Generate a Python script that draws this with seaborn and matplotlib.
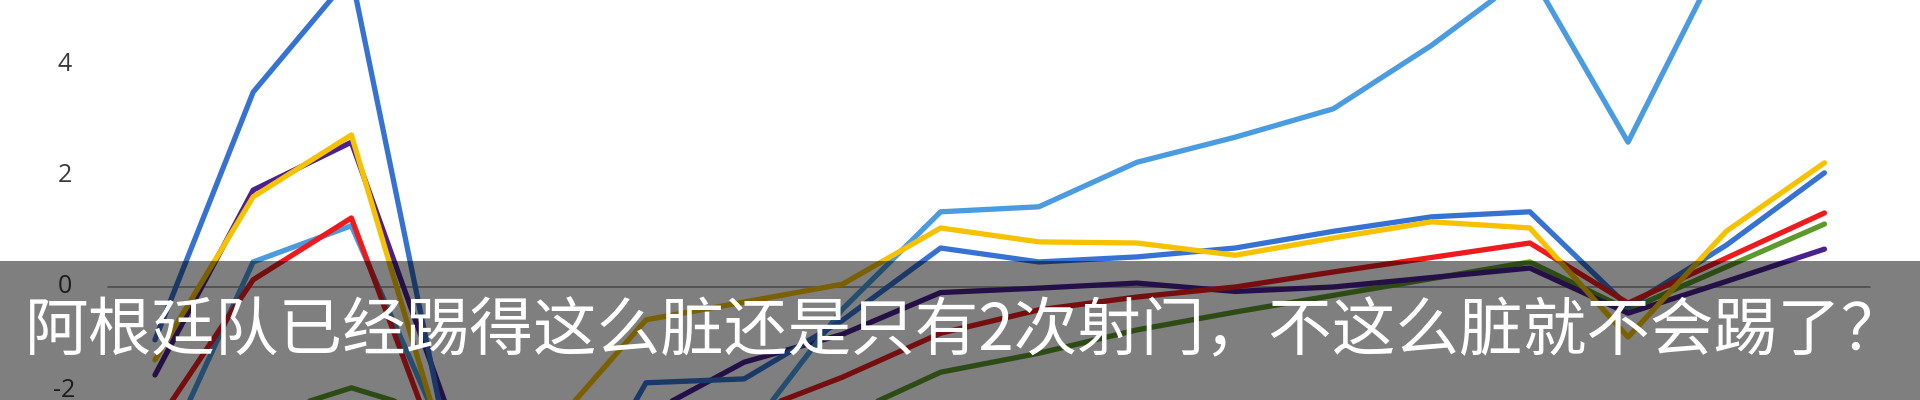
import pandas as pd
import matplotlib.pyplot as plt
import seaborn as sns
from matplotlib.patches import Rectangle

sns.set_theme(style="white")
plt.rcParams['font.family'] = ['Noto Sans CJK SC', 'DejaVu Sans']

# values, one per round (0..17)
rounds = list(range(18))
blue = [-0.95, 3.5, 5.6, -3.0, -4.8, -1.72, -1.65, -0.6, 0.70, 0.45, 0.54, 0.70, 1.0, 1.26, 1.35, -0.35, 0.75, 2.05]
light_blue = [-3.4, 0.45, 1.1, -2.9, -4.0, -3.5, -2.7, -0.4, 1.35, 1.44, 2.24, 2.69, 3.2, 4.34, 5.65, 2.6, 6.1, 6.5]
yellow = [-1.31, 1.62, 2.73, -3.2, -2.6, -0.59, -0.27, 0.05, 1.06, 0.81, 0.79, 0.57, 0.88, 1.17, 1.06, -0.9, 1.0, 2.23]
purple = [-1.58, 1.74, 2.6, -2.3, -3.5, -2.3, -1.35, -0.85, -0.1, -0.02, 0.07, -0.08, 0.0, 0.17, 0.34, -0.47, 0.1, 0.68]
red = [-2.5, 0.13, 1.24, -3.5, -4.0, -3.0, -2.3, -1.62, -0.83, -0.41, -0.18, 0.0, 0.27, 0.53, 0.79, -0.29, 0.52, 1.33]
green = [-2.9, -2.37, -1.81, -2.35, -2.6, -2.7, -2.6, -2.34, -1.53, -1.19, -0.77, -0.45, -0.15, 0.15, 0.45, -0.41, 0.36, 1.13]

y_ticks = [-2, 0, 2, 4]
caption = "阿根廷队已经踢得这么脏还是只有2次射门，不这么脏就不会踢了？"

series = {
    "green": green,
    "purple": purple,
    "light_blue": light_blue,
    "blue": blue,
    "red": red,
    "yellow": yellow,
}
colors = {
    "green": "#5c9a2c",
    "purple": "#4a2290",
    "light_blue": "#4a9be0",
    "blue": "#3572d2",
    "red": "#ee1b1e",
    "yellow": "#f6c200",
}

df = pd.concat(
    [pd.DataFrame({"round": rounds, "value": v, "series": k}) for k, v in series.items()],
    ignore_index=True,
)

fig = plt.figure(figsize=(19.2, 4.0), dpi=100)
ax = fig.add_axes([0, 0, 1, 1])

# zero reference line
ax.axhline(0, xmin=0.056, xmax=0.974, color="#9a9a9a", linewidth=1.2, zorder=1)

sns.lineplot(data=df, x="round", y="value", hue="series", hue_order=list(series.keys()),
             palette=colors, linewidth=3.8, legend=False, sort=False, ax=ax,
             solid_capstyle="round", solid_joinstyle="round", zorder=2)

for t in y_ticks:
    # the bottom label sits at the picture edge; lift it a little so it stays whole
    ty = t if t > -2 else -1.86
    ax.text(-0.92, ty, str(t), ha="center", va="center", fontsize=18,
            color="#3a3a3a", family="Open Sans", clip_on=False)

ax.set_xlim(-1.578, 17.973)
ax.set_ylim(-2.029, 5.153)
ax.set_axis_off()

# subtitle banner over the chart
fig.add_artist(Rectangle((0, 0), 1, 139 / 400, transform=fig.transFigure,
                         facecolor="black", alpha=0.5, edgecolor="none", zorder=5))
fig.text(0.013, 0.17, caption, ha="left", va="center", fontsize=45.8, color="white",
         family=["Noto Sans CJK SC", "DejaVu Sans"], zorder=6)

fig.savefig("out.png", dpi=100)
